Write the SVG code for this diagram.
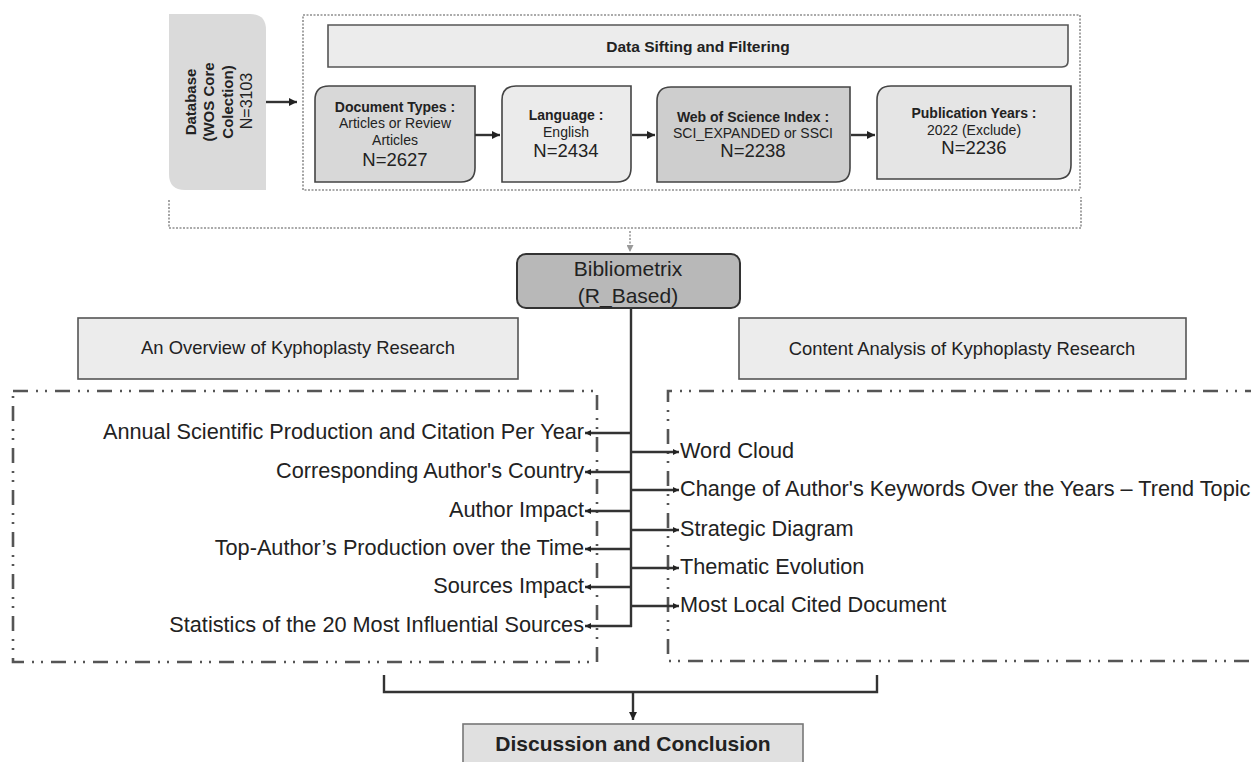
<svg xmlns="http://www.w3.org/2000/svg" width="1251" height="762" viewBox="0 0 1251 762">
<style>
text{font-family:"Liberation Sans",Arial,sans-serif;fill:#222}
.b{font-weight:bold}
.box{stroke:#444;stroke-width:1.6}
.hdr{fill:#ececec;stroke:#555;stroke-width:1.6}
.dot{fill:none;stroke:#8f8f8f;stroke-width:1.6;stroke-dasharray:2 1.5}
.dd{fill:none;stroke:#555;stroke-width:2.6;stroke-dasharray:15 8 2 7 2 8}
.ln{fill:none;stroke:#333;stroke-width:2.4}
.it{font-size:21.7px}
.s14{font-size:14px}
.n{font-size:18.5px}
</style>
<defs>
<marker id="ah" viewBox="0 0 10 10" refX="10" refY="5" markerWidth="9" markerHeight="8" markerUnits="userSpaceOnUse" orient="auto"><path d="M0,0 L10,5 L0,10 z" fill="#222"/></marker>
<marker id="as" viewBox="0 0 10 10" refX="10" refY="5" markerWidth="7" markerHeight="6" markerUnits="userSpaceOnUse" orient="auto"><path d="M0,0 L10,5 L0,10 z" fill="#222"/></marker>
<marker id="ag" viewBox="0 0 10 10" refX="10" refY="5" markerWidth="8" markerHeight="7" markerUnits="userSpaceOnUse" orient="auto"><path d="M0,0 L10,5 L0,10 z" fill="#999"/></marker>
</defs>

<g id="frames">
<rect class="dot" x="303" y="15" width="777" height="175"/>
<path class="dot" d="M169,200 V228 H1081 V197"/>
<rect class="dd" x="13" y="391" width="584" height="271"/>
<path class="dd" d="M1260,391 H668 V661 H1260"/>
</g>

<g id="database">
<path d="M169,14 H250 Q266,14 266,30 V190 H185 Q169,190 169,174 Z" fill="#dadada"/>
<text class="b" font-size="15" text-anchor="middle" transform="translate(196,102) rotate(-90)">Database</text>
<text class="b" font-size="15" text-anchor="middle" transform="translate(214,102) rotate(-90)">(WOS Core</text>
<text class="b" font-size="15" text-anchor="middle" transform="translate(233,102) rotate(-90)">Colection)</text>
<text font-size="16" text-anchor="middle" transform="translate(252,101) rotate(-90)">N=3103</text>
</g>

<g id="sifting">
<path class="hdr" d="M328,25 H1068 V61 Q1068,67 1062,67 H328 Z" fill="#efefef"/>
<text class="b" font-size="15.5" x="698" y="52" text-anchor="middle">Data Sifting and Filtering</text>
</g>

<g id="doctypes">
<path class="box" d="M315,100 Q315,86 329,86 H475 V168 Q475,182 461,182 H315 Z" fill="#d8d8d8"/>
<text class="b s14" x="395" y="112" text-anchor="middle">Document Types :</text>
<text class="s14" x="395" y="128" text-anchor="middle">Articles or Review</text>
<text class="s14" x="395" y="145" text-anchor="middle">Articles</text>
<text class="n" x="395" y="166" text-anchor="middle">N=2627</text>
</g>

<g id="language">
<path class="box" d="M502,100 Q502,86 516,86 H631 V168 Q631,182 617,182 H502 Z" fill="#ebebeb"/>
<text class="b s14" x="566" y="120" text-anchor="middle">Language :</text>
<text class="s14" x="566" y="137" text-anchor="middle">English</text>
<text class="n" x="566" y="157" text-anchor="middle">N=2434</text>
</g>

<g id="wos">
<path class="box" d="M657,101 Q657,87 671,87 H850 V168 Q850,182 836,182 H657 Z" fill="#cecece"/>
<text class="b s14" x="753" y="122" text-anchor="middle">Web of Science Index :</text>
<text class="s14" x="753" y="138" text-anchor="middle">SCI_EXPANDED or SSCI</text>
<text class="n" x="753" y="157" text-anchor="middle">N=2238</text>
</g>

<g id="pubyears">
<path class="box" d="M877,100 Q877,86 891,86 H1071 V165 Q1071,179 1057,179 H877 Z" fill="#e5e5e5"/>
<text class="b s14" x="974" y="118" text-anchor="middle">Publication Years :</text>
<text class="s14" x="974" y="135" text-anchor="middle">2022 (Exclude)</text>
<text class="n" x="974" y="154" text-anchor="middle">N=2236</text>
</g>

<g id="bibliometrix">
<rect x="517" y="254" width="223" height="54" rx="9" fill="#b8b8b8" stroke="#333" stroke-width="2"/>
<text font-size="21" x="628" y="276" text-anchor="middle">Bibliometrix</text>
<text font-size="21" x="628" y="303" text-anchor="middle">(R_Based)</text>
</g>

<g id="overview">
<rect class="hdr" x="78" y="318" width="440" height="61"/>
<text font-size="18.4" x="298" y="354" text-anchor="middle">An Overview of Kyphoplasty Research</text>
</g>

<g id="content">
<rect class="hdr" x="739" y="318" width="447" height="61"/>
<text font-size="18.4" x="962" y="355" text-anchor="middle">Content Analysis of Kyphoplasty Research</text>
</g>

<g id="overview-items" text-anchor="end">
<text class="it" x="584" y="439">Annual Scientific Production and Citation Per Year</text>
<text class="it" x="584" y="478">Corresponding Author's Country</text>
<text class="it" x="584" y="517">Author Impact</text>
<text class="it" x="584" y="555">Top-Author’s Production over the Time</text>
<text class="it" x="584" y="593">Sources Impact</text>
<text class="it" x="584" y="632">Statistics of the 20 Most Influential Sources</text>
</g>

<g id="content-items">
<text class="it" x="680" y="458">Word Cloud</text>
<text class="it" x="680" y="496">Change of Author's Keywords Over the Years – Trend Topic</text>
<text class="it" x="680" y="536">Strategic Diagram</text>
<text class="it" x="680" y="574">Thematic Evolution</text>
<text class="it" x="680" y="612">Most Local Cited Document</text>
</g>

<g id="discussion">
<rect x="463" y="724" width="340" height="45" fill="#e0e0e0" stroke="#777" stroke-width="1.6"/>
<text class="b" font-size="21" x="633" y="751" text-anchor="middle">Discussion and Conclusion</text>
</g>

<g id="connectors">
<line class="ln" x1="266" y1="102" x2="297" y2="102" marker-end="url(#ah)"/>
<line class="ln" x1="475" y1="135" x2="500" y2="135" marker-end="url(#ah)"/>
<line class="ln" x1="632" y1="135" x2="655" y2="135" marker-end="url(#ah)"/>
<line class="ln" x1="851" y1="135" x2="875" y2="135" marker-end="url(#ah)"/>
<line x1="630" y1="231" x2="630" y2="252" stroke="#999" stroke-width="1.6" stroke-dasharray="2 1.5" marker-end="url(#ag)"/>
<line class="ln" x1="631" y1="308" x2="631" y2="627"/>
<line class="ln" x1="631" y1="433" x2="585" y2="433" marker-end="url(#as)"/>
<line class="ln" x1="631" y1="472" x2="585" y2="472" marker-end="url(#as)"/>
<line class="ln" x1="631" y1="511" x2="585" y2="511" marker-end="url(#as)"/>
<line class="ln" x1="631" y1="549" x2="585" y2="549" marker-end="url(#as)"/>
<line class="ln" x1="631" y1="587" x2="585" y2="587" marker-end="url(#as)"/>
<line class="ln" x1="632" y1="626" x2="585" y2="626" marker-end="url(#as)"/>
<line class="ln" x1="631" y1="452" x2="679" y2="452" marker-end="url(#as)"/>
<line class="ln" x1="631" y1="490" x2="679" y2="490" marker-end="url(#as)"/>
<line class="ln" x1="631" y1="530" x2="679" y2="530" marker-end="url(#as)"/>
<line class="ln" x1="631" y1="568" x2="679" y2="568" marker-end="url(#as)"/>
<line class="ln" x1="631" y1="606" x2="679" y2="606" marker-end="url(#as)"/>
<path class="ln" d="M384,675 V692 H877 V675"/>
<line class="ln" x1="633" y1="692" x2="633" y2="720" marker-end="url(#ah)"/>
</g>
</svg>
